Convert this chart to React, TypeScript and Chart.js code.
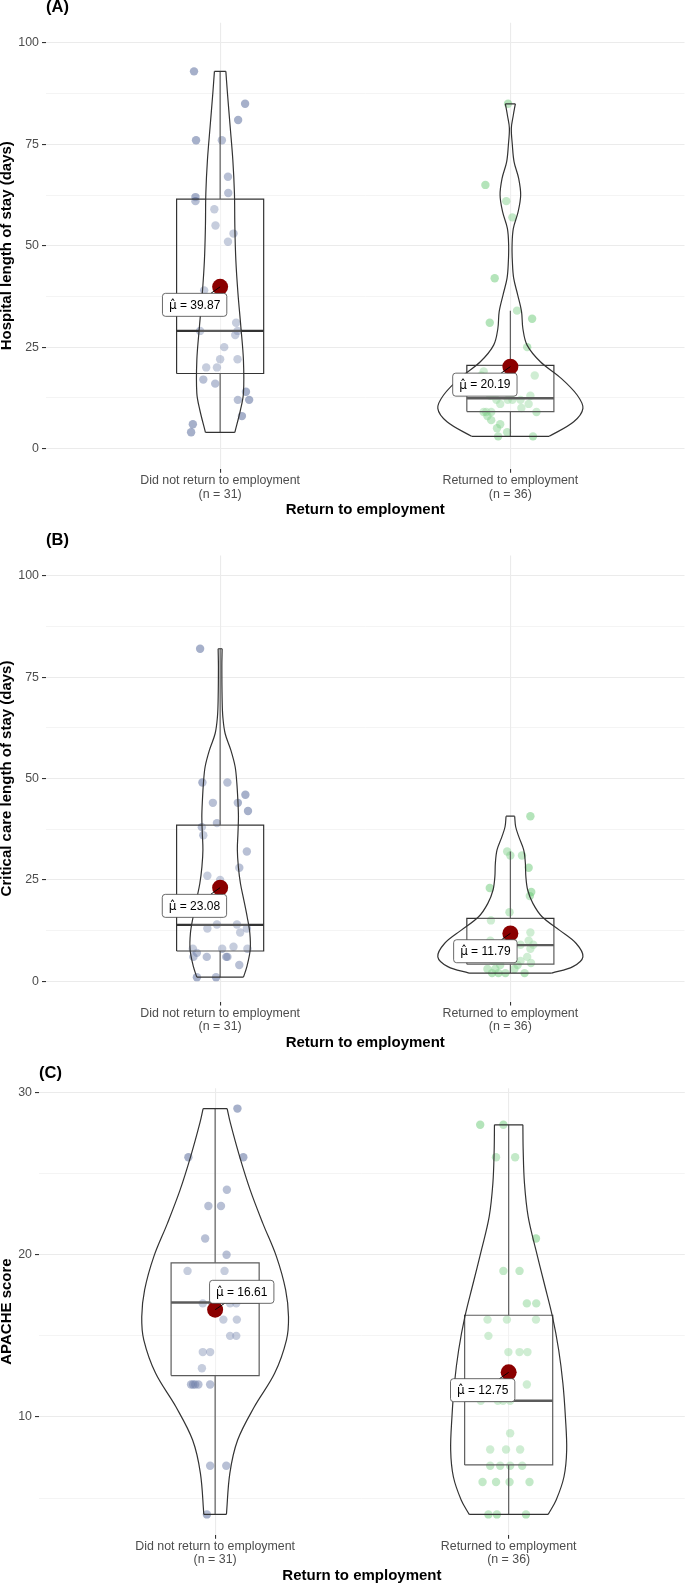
import React, { useEffect, useRef } from 'react';
import { Chart, registerables } from 'chart.js';

Chart.register(...registerables);
Chart.defaults.font.family = '"Liberation Sans", Arial, Helvetica, sans-serif';

// ---------- shared categories ----------
const groupLabels = ['Did not return to employment', 'Returned to employment'];
const groupSizes = [31, 36];
const xAxisTitle = 'Return to employment';
const meanSymbol = '\u03BC\u0302';

// ---------- (A) Hospital length of stay ----------
const hospTitle = 'Hospital length of stay (days)';
const hospRange = [-5, 105];
const hospMajorTicks = [0, 25, 50, 75, 100];
const hospMinorTicks = [12.5, 37.5, 62.5, 87.5];
const hospMeans = [39.87, 20.19];
const hospNoValues = [93, 85, 81, 76, 76, 67, 63, 62, 61, 59, 55, 53, 51, 39, 31, 29, 29, 28, 25, 22, 22, 20, 20, 17, 16, 14, 12, 12, 8, 6, 4];
const hospNoJitter = [-0.090, 0.086, 0.062, -0.083, 0.006, 0.027, 0.028, -0.085, -0.085, -0.020, -0.016, 0.046, 0.027, -0.055, 0.055, 0.060, -0.069, 0.052, 0.014, 0.000, 0.060, -0.048, -0.011, -0.058, -0.017, 0.089, 0.061, 0.100, 0.075, -0.094, -0.100];
const hospYesValues = [85, 65, 61, 57, 42, 34, 32, 31, 25, 19, 18, 18, 17, 16, 15, 14, 13, 13, 12, 12, 12, 12, 11, 11, 10, 9, 9, 9, 9, 8, 7, 6, 5, 4, 3, 3];
const hospYesJitter = [-0.008, -0.086, -0.014, 0.007, -0.054, 0.023, 0.075, -0.071, 0.058, -0.092, 0.084, -0.100, -0.017, -0.097, -0.035, -0.076, 0.069, -0.069, -0.048, -0.009, 0.035, 0.007, 0.063, -0.035, 0.038, -0.092, -0.066, 0.090, -0.083, -0.079, -0.066, -0.035, -0.046, -0.011, -0.042, 0.078];
// box: [whisker low, Q1, median, Q3, whisker high]
const hospBoxNo = [4, 18.5, 29, 61.5, 93];
const hospBoxYes = [3, 9.1, 12.4, 20.5, 34];
// violin outline: y values (top to bottom) and half widths (category units)
const hospViolinNoY = [93, 87.6, 79.4, 71.1, 62.9, 54.7, 46.5, 38.3, 30.0, 21.8, 13.6, 9.5, 4];
const hospViolinNoW = [0.0197, 0.0252, 0.0345, 0.0438, 0.0493, 0.0507, 0.0541, 0.0614, 0.0714, 0.0803, 0.0803, 0.0700, 0.0507];
const hospViolinYesY = [85, 82, 79, 74.8, 70.7, 66.6, 62.5, 58.4, 54.3, 50.2, 46.1, 42, 37.9, 33.7, 29.6, 25.5, 21.4, 17.3, 13.2, 9.9, 6.6, 3];
const hospViolinYesW = [0.0172, 0.0097, 0.0034, 0.0069, 0.0128, 0.0286, 0.0355, 0.0269, 0.0103, 0.0059, 0.0069, 0.0114, 0.0252, 0.0386, 0.0431, 0.0576, 0.1034, 0.1752, 0.2300, 0.2500, 0.2183, 0.1338];

// ---------- (B) Critical care length of stay ----------
const critTitle = 'Critical care length of stay (days)';
const critRange = [-5, 105];
const critMajorTicks = [0, 25, 50, 75, 100];
const critMinorTicks = [12.5, 37.5, 62.5, 87.5];
const critMeans = [23.08, 11.79];
const critNoValues = [82, 49, 49, 46, 44, 44, 42, 39, 38, 36, 32, 28, 26, 25, 14, 14, 13, 13, 12, 8.5, 8, 8, 8, 7, 6, 6, 6, 6, 4, 1, 1];
const critNoJitter = [-0.069, -0.061, 0.025, 0.087, -0.025, 0.061, 0.096, -0.011, -0.063, -0.058, 0.092, 0.066, -0.044, 0.000, -0.011, 0.058, -0.044, 0.092, 0.069, 0.046, 0.094, -0.094, 0.007, -0.080, -0.092, -0.046, 0.025, 0.021, 0.066, -0.080, -0.014];
const critYesValues = [40.7, 32, 31, 31, 28, 23, 22, 21, 17, 15, 12, 11, 10, 10, 10, 9.2, 9, 9, 9, 8, 8, 7, 6, 6, 5, 5, 4.5, 4, 4, 3, 3, 3, 2, 2, 2, 2];
const critYesJitter = [0.069, -0.011, 0.040, 0.000, 0.063, -0.071, 0.072, 0.067, -0.003, -0.067, 0.069, -0.011, 0.063, -0.069, 0.007, -0.024, 0.035, -0.083, 0.079, 0.069, -0.055, -0.035, 0.058, -0.076, -0.059, 0.035, 0.071, 0.025, -0.035, -0.052, 0.014, -0.079, -0.063, -0.017, 0.049, -0.041];
const critBoxNo = [1, 7.45, 13.9, 38.5, 82];
const critBoxYes = [2, 4.2, 8.9, 15.5, 32];
const critViolinNoY = [82, 77.6, 69.4, 65.2, 61.1, 57.0, 52.9, 48.8, 44.7, 40.6, 36.5, 32.4, 28.2, 24.1, 20.0, 15.9, 11.8, 7.7, 3.6, 1];
const critViolinNoW = [0.0069, 0.0059, 0.0069, 0.0093, 0.0172, 0.0369, 0.0517, 0.0576, 0.0610, 0.0631, 0.0614, 0.0593, 0.0628, 0.0700, 0.0817, 0.0931, 0.1024, 0.1034, 0.0921, 0.0803];
const critViolinYesY = [40.7, 38.1, 35.6, 32.4, 29.1, 25.8, 22.5, 19.2, 15.9, 12.6, 9.3, 6.0, 3.6, 2];
const critViolinYesW = [0.0148, 0.0183, 0.0293, 0.0459, 0.0517, 0.0534, 0.0597, 0.0776, 0.1093, 0.1690, 0.2269, 0.2500, 0.2155, 0.1424];

// ---------- (C) APACHE score ----------
const apacheTitle = 'APACHE score';
const apacheRange = [2.75, 30.25];
const apacheMajorTicks = [10, 20, 30];
const apacheMinorTicks = [5, 15, 25];
const apacheMeans = [16.61, 12.75];
const apacheNoValues = [29, 26, 26, 24, 23, 23, 21, 20, 19, 19, 18, 18, 17, 17, 17, 17, 16, 16, 15, 15, 14, 14, 13, 12, 12, 12, 12, 12, 7, 7, 4];
const apacheNoJitter = [0.076, -0.091, 0.096, 0.040, -0.023, 0.020, -0.034, 0.039, -0.094, 0.032, 0.085, 0.095, -0.042, 0.051, -0.010, 0.072, 0.028, 0.074, 0.051, 0.072, -0.042, -0.017, -0.045, -0.082, -0.068, -0.057, -0.017, -0.075, -0.017, 0.038, -0.028];
const apacheYesValues = [28, 28, 26, 26, 21, 19, 19, 17, 17, 16, 16, 16, 15, 14, 14, 14, 12, 11, 11, 11, 11, 9, 8, 8, 8, 7, 7, 7, 7, 6, 6, 6, 6, 4, 4, 4];
const apacheYesJitter = [-0.097, -0.018, -0.043, 0.022, 0.093, -0.018, 0.037, 0.062, 0.094, -0.072, -0.006, 0.093, -0.069, -0.001, 0.037, 0.064, 0.062, -0.095, -0.037, -0.019, 0.005, 0.005, -0.063, -0.009, 0.039, -0.029, 0.005, -0.063, 0.046, -0.089, 0.003, 0.071, -0.043, -0.069, -0.040, 0.059];
const apacheBoxNo = [4, 12.55, 17.05, 19.5, 29];
const apacheBoxYes = [4, 7.05, 11, 16.27, 28];
const apacheViolinNoY = [29, 28.1, 26.04, 23.99, 21.93, 19.88, 17.83, 16.18, 14.74, 12.69, 10.63, 8.58, 6.53, 4];
const apacheViolinNoW = [0.0409, 0.0521, 0.0835, 0.1193, 0.1625, 0.2089, 0.2402, 0.2500, 0.2429, 0.2027, 0.1336, 0.0767, 0.0501, 0.0385];
const apacheViolinYesY = [28, 26.45, 24.40, 22.34, 20.29, 18.24, 16.18, 14.13, 12.08, 10.02, 7.97, 6.32, 4.89, 4];
const apacheViolinYesW = [0.0484, 0.0494, 0.0538, 0.0664, 0.0927, 0.1210, 0.1492, 0.1704, 0.1847, 0.1932, 0.1976, 0.1884, 0.1618, 0.1346];

// ---------- styles ----------
const CANVAS_W = 685;
const CANVAS_H = 528;
const POINT_COLORS = ['rgba(77,97,149,0.5)', 'rgba(105,201,117,0.5)'];
const OUTLINE = '#333333';
const OVERLAY = 'rgba(255,255,255,0.2)';
const MEAN_COLOR = '#8B0000';
const GRID = '#EBEBEB';
const TICK_TEXT = '#4D4D4D';
const TICK_MARK = '#333333';
const BOX_HALF = 0.15;
const LABEL_FONT = '12px "Liberation Sans", Arial, sans-serif';
const SYMBOL_FONT = '12px "DejaVu Sans", sans-serif';

const panelStyles = [
  { tag: '(A)', areaLeft: 46, areaTop: 22.7, areaBottom: 468.8, areaRight: 684.5, labelOffsets: [[-25.5, 18], [-25.5, 18]] },
  { tag: '(B)', areaLeft: 46, areaTop: 27.5, areaBottom: 473.5, areaRight: 684.5, labelOffsets: [[-25.7, 18.2], [-25, 17.8]] },
  { tag: '(C)', areaLeft: 39, areaTop: 32.3, areaBottom: 478.7, areaRight: 684.8, labelOffsets: [[26.6, -17.9], [-26, 17.8]] },
];

const panels = [
  {
    yTitle: hospTitle, range: hospRange, major: hospMajorTicks, minor: hospMinorTicks, means: hospMeans,
    groups: [
      { values: hospNoValues, jitter: hospNoJitter, box: hospBoxNo, violinY: hospViolinNoY, violinW: hospViolinNoW },
      { values: hospYesValues, jitter: hospYesJitter, box: hospBoxYes, violinY: hospViolinYesY, violinW: hospViolinYesW },
    ],
    style: panelStyles[0],
  },
  {
    yTitle: critTitle, range: critRange, major: critMajorTicks, minor: critMinorTicks, means: critMeans,
    groups: [
      { values: critNoValues, jitter: critNoJitter, box: critBoxNo, violinY: critViolinNoY, violinW: critViolinNoW },
      { values: critYesValues, jitter: critYesJitter, box: critBoxYes, violinY: critViolinYesY, violinW: critViolinYesW },
    ],
    style: panelStyles[1],
  },
  {
    yTitle: apacheTitle, range: apacheRange, major: apacheMajorTicks, minor: apacheMinorTicks, means: apacheMeans,
    groups: [
      { values: apacheNoValues, jitter: apacheNoJitter, box: apacheBoxNo, violinY: apacheViolinNoY, violinW: apacheViolinNoW },
      { values: apacheYesValues, jitter: apacheYesJitter, box: apacheBoxYes, violinY: apacheViolinYesY, violinW: apacheViolinYesW },
    ],
    style: panelStyles[2],
  },
];

function lineDs(data: any[], extra: any) {
  return {
    type: 'line',
    data,
    pointRadius: 0,
    pointHoverRadius: 0,
    borderColor: OUTLINE,
    borderWidth: 1.2,
    fill: false,
    tension: 0,
    spanGaps: false,
    borderJoinStyle: 'miter',
    ...extra,
  };
}

function buildConfig(p: any) {
  const st = p.style;
  const datasets: any[] = [];
  const GAP = { x: null, y: null };

  p.groups.forEach((g: any, gi: number) => {
    const c = gi + 1;
    datasets.push({
      type: 'scatter',
      data: g.values.map((v: number, i: number) => ({ x: c + g.jitter[i], y: v })),
      backgroundColor: POINT_COLORS[gi],
      borderWidth: 0,
      pointRadius: 4.2,
      pointHoverRadius: 4.2,
      order: 60,
    });
    const [lo, q1, med, q3, hi] = g.box;
    datasets.push(lineDs([{ x: c, y: q3 }, { x: c, y: hi }, GAP, { x: c, y: q1 }, { x: c, y: lo }], { order: 55 }));
    datasets.push(lineDs([
      { x: c - BOX_HALF, y: q1 }, { x: c + BOX_HALF, y: q1 }, { x: c + BOX_HALF, y: q3 },
      { x: c - BOX_HALF, y: q3 }, { x: c - BOX_HALF, y: q1 },
    ], { fill: 'shape', backgroundColor: OVERLAY, order: 50 }));
    datasets.push(lineDs([{ x: c - BOX_HALF, y: med }, { x: c + BOX_HALF, y: med }], { borderWidth: 2.4, borderCapStyle: 'butt', order: 45 }));

    const right = g.violinY.map((y: number, i: number) => ({ x: c + g.violinW[i], y }));
    const left = g.violinY.map((y: number, i: number) => ({ x: c - g.violinW[i], y }));
    const n = right.length - 1;
    datasets.push(lineDs([...right, ...left.slice().reverse(), right[0]], { borderWidth: 0, fill: 'shape', backgroundColor: OVERLAY, order: 40 }));
    datasets.push(lineDs(right, { tension: 0.35, order: 30 }));
    datasets.push(lineDs(left, { tension: 0.35, order: 30 }));
    datasets.push(lineDs([left[0], right[0], GAP, left[n], right[n]], { order: 30 }));
  });

  datasets.push({
    type: 'scatter',
    data: p.means.map((m: number, i: number) => ({ x: i + 1, y: m })),
    backgroundColor: MEAN_COLOR,
    borderWidth: 0,
    pointRadius: 8,
    pointHoverRadius: 8,
    order: 0,
  });

  const isMajor = (v: number) => p.major.some((m: number) => Math.abs(m - v) < 1e-9);
  const allTicks = [...p.major, ...p.minor].sort((a: number, b: number) => a - b);

  const annot = {
    id: 'annot' + st.tag,
    afterDatasetsDraw(chart: any) {
      const { ctx, scales } = chart;
      const xs = scales.x, ys = scales.y;
      ctx.save();
      p.means.forEach((m: number, i: number) => {
        const px = xs.getPixelForValue(i + 1);
        const py = ys.getPixelForValue(m);
        const [dx, dy] = st.labelOffsets[i];
        const cx = px + dx, cy = py + dy;
        const rest = ' = ' + m.toFixed(2);
        ctx.font = SYMBOL_FONT;
        const w1 = ctx.measureText(meanSymbol).width;
        ctx.font = LABEL_FONT;
        const w2 = ctx.measureText(rest).width;
        const tw = w1 + w2;
        const w = tw + 13;
        const h = 23;
        const vx = px - cx, vy = py - cy;
        const s = Math.min((w / 2) / Math.max(Math.abs(vx), 1e-6), (h / 2) / Math.max(Math.abs(vy), 1e-6));
        const ex = cx + vx * s, ey = cy + vy * s;
        ctx.strokeStyle = '#000';
        ctx.lineWidth = 0.9;
        ctx.beginPath();
        ctx.moveTo(px, py);
        ctx.lineTo(ex, ey);
        ctx.stroke();
        const x0 = cx - w / 2, y0 = cy - h / 2;
        ctx.beginPath();
        if (ctx.roundRect) ctx.roundRect(x0, y0, w, h, 3); else ctx.rect(x0, y0, w, h);
        ctx.fillStyle = '#FFFFFF';
        ctx.fill();
        ctx.strokeStyle = '#444';
        ctx.lineWidth = 0.8;
        ctx.stroke();
        ctx.fillStyle = '#000';
        ctx.textAlign = 'left';
        ctx.textBaseline = 'middle';
        const tx = cx - tw / 2;
        ctx.font = SYMBOL_FONT;
        ctx.fillText(meanSymbol, tx, cy + 1);
        ctx.font = LABEL_FONT;
        ctx.fillText(rest, tx + w1, cy + 0.5);
      });
      ctx.restore();
    },
    afterDraw(chart: any) {
      const { ctx, chartArea } = chart;
      ctx.save();
      ctx.font = 'bold 16.5px "Liberation Sans", Arial, sans-serif';
      ctx.fillStyle = '#000';
      ctx.textAlign = 'left';
      ctx.textBaseline = 'middle';
      ctx.fillText(st.tag, chartArea.left, chartArea.top - 15);
      ctx.restore();
    },
  };

  return {
    type: 'scatter',
    data: { datasets },
    plugins: [annot],
    options: {
      animation: false,
      responsive: false,
      devicePixelRatio: 1,
      events: [],
      layout: { autoPadding: false, padding: { left: 0, top: st.areaTop, right: CANVAS_W - st.areaRight, bottom: 0 } },
      plugins: { legend: { display: false }, tooltip: { enabled: false }, title: { display: false } },
      scales: {
        x: {
          type: 'linear',
          min: 0.4,
          max: 2.6,
          offset: false,
          afterBuildTicks: (s: any) => { s.ticks = [{ value: 1 }, { value: 2 }]; },
          afterFit: (s: any) => { s.height = CANVAS_H - st.areaBottom; },
          ticks: {
            autoSkip: false,
            maxRotation: 0,
            minRotation: 0,
            padding: 0.9,
            color: TICK_TEXT,
            font: { size: 12.4, lineHeight: 1.1 },
            callback: (v: number) => {
              const i = Math.round(v) - 1;
              return [groupLabels[i], '(n = ' + groupSizes[i] + ')'];
            },
          },
          grid: { color: GRID, lineWidth: 1.1, drawTicks: true, tickLength: 4, tickColor: TICK_MARK, tickWidth: 1.1 },
          border: { display: false },
          title: {
            display: true,
            text: xAxisTitle,
            color: '#000',
            font: { size: 15, weight: 'bold', lineHeight: 1 },
            padding: { top: 0, bottom: CANVAS_H - st.areaBottom - 41 - 7.5 },
          },
        },
        y: {
          type: 'linear',
          min: p.range[0],
          max: p.range[1],
          afterBuildTicks: (s: any) => { s.ticks = allTicks.map((v: number) => ({ value: v })); },
          afterFit: (s: any) => { s.width = st.areaLeft; },
          ticks: {
            autoSkip: false,
            padding: 3,
            color: TICK_TEXT,
            font: { size: 12.4 },
            callback: (v: number) => (isMajor(v) ? String(v) : ''),
          },
          grid: {
            color: GRID,
            lineWidth: (ctx: any) => (ctx.tick && isMajor(ctx.tick.value) ? 1.1 : 0.55),
            drawTicks: true,
            tickLength: 4,
            tickWidth: 1.1,
            tickColor: (ctx: any) => (ctx.tick && isMajor(ctx.tick.value) ? TICK_MARK : 'rgba(0,0,0,0)'),
          },
          border: { display: false },
          title: {
            display: true,
            text: p.yTitle,
            color: '#000',
            font: { size: 15, weight: 'bold', lineHeight: 1 },
            padding: { top: -1, bottom: 0 },
          },
        },
      },
    },
  };
}

function Panel({ spec }: { spec: any }) {
  const ref = useRef<HTMLCanvasElement | null>(null);
  useEffect(() => {
    if (!ref.current) return;
    const chart = new Chart(ref.current, buildConfig(spec) as any);
    return () => chart.destroy();
  }, [spec]);
  return (
    <canvas
      ref={ref}
      width={CANVAS_W}
      height={CANVAS_H}
      style={{ display: 'block', width: CANVAS_W, height: CANVAS_H }}
    />
  );
}

export default function App() {
  return (
    <div style={{ position: 'absolute', left: 0, top: 0, width: CANVAS_W, height: CANVAS_H * 3, background: '#FFFFFF' }}>
      {panels.map((p, i) => (
        <Panel key={i} spec={p} />
      ))}
    </div>
  );
}
